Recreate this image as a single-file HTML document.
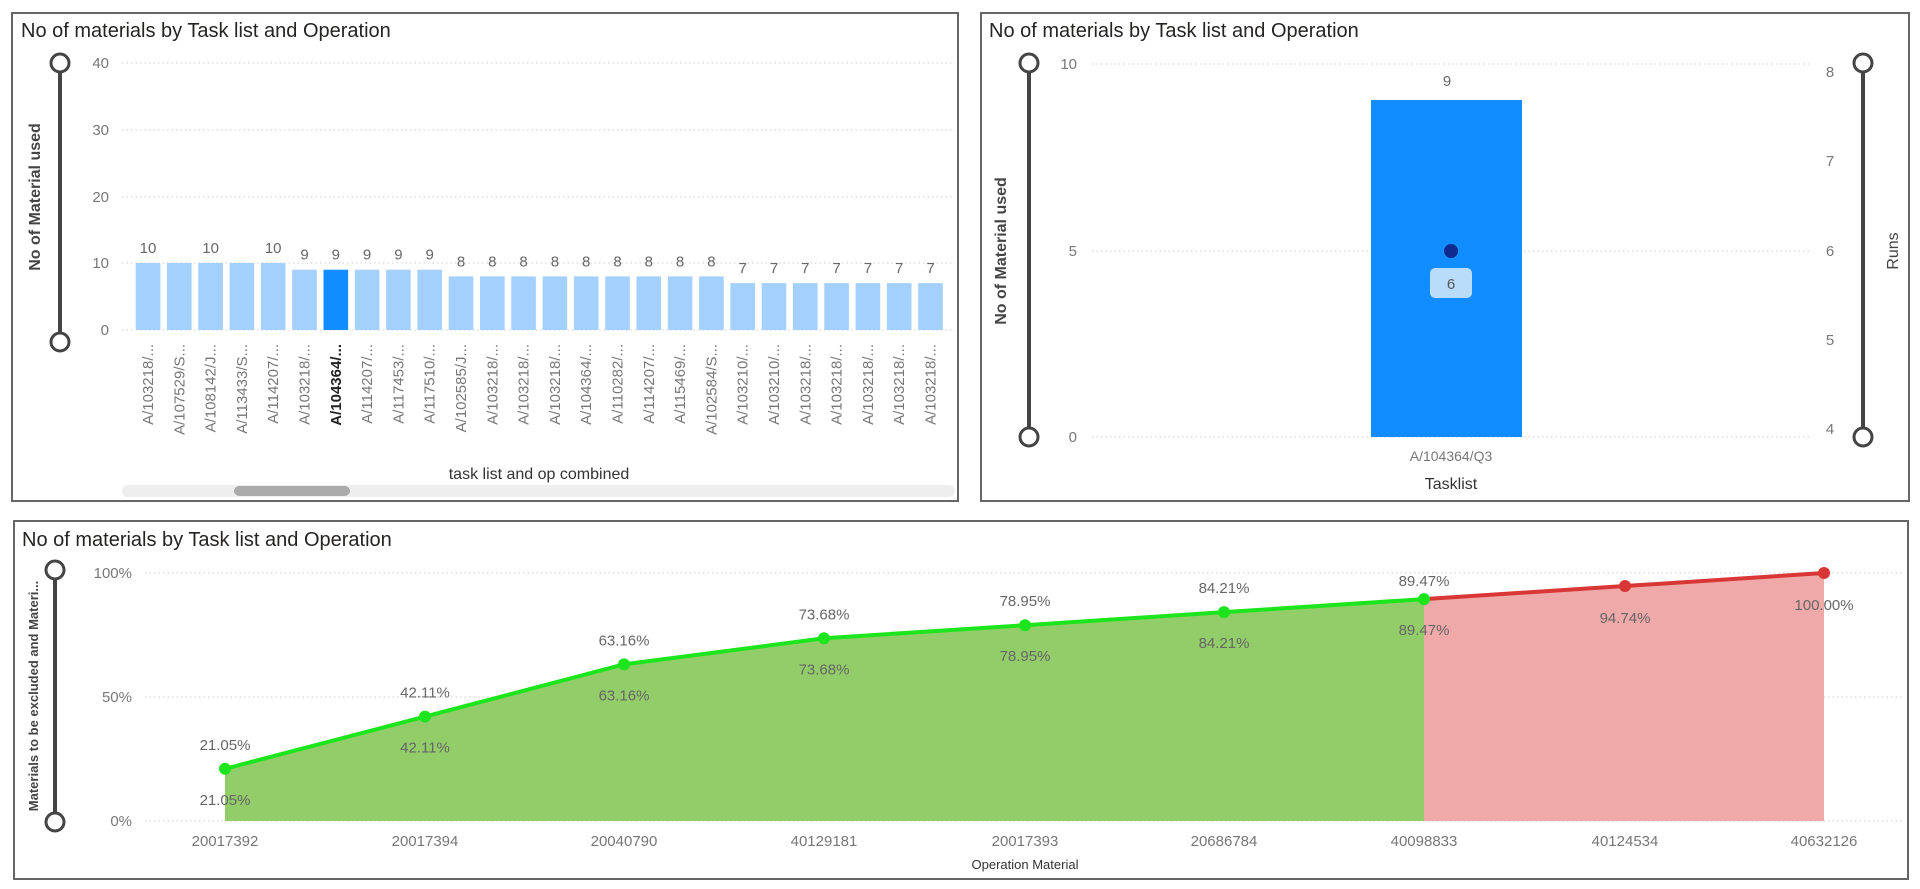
<!DOCTYPE html>
<html><head><meta charset="utf-8"><style>
html,body{margin:0;padding:0;background:#fff;}
svg{display:block;font-family:"Liberation Sans",sans-serif;}
</style></head><body>
<svg width="1920" height="889" viewBox="0 0 1920 889" xmlns="http://www.w3.org/2000/svg">
<rect x="12" y="13" width="946" height="488" fill="#fff" stroke="#666" stroke-width="2"/>
<rect x="981" y="13" width="928" height="488" fill="#fff" stroke="#666" stroke-width="2"/>
<rect x="14" y="521" width="1894" height="358" fill="#fff" stroke="#666" stroke-width="2"/>

<text x="21" y="37" font-size="20" fill="#252423">No of materials by Task list and Operation</text>
<line x1="60" y1="63" x2="60" y2="342" stroke="#444" stroke-width="4"/>
<circle cx="60" cy="63" r="9" fill="#fff" stroke="#444" stroke-width="3"/>
<circle cx="60" cy="342" r="9" fill="#fff" stroke="#444" stroke-width="3"/>
<text transform="translate(40,197) rotate(-90)" text-anchor="middle" font-size="16" font-weight="bold" fill="#444">No of Material used</text>
<g font-size="15" fill="#777" text-anchor="end">
<text x="109" y="68">40</text><text x="109" y="135">30</text><text x="109" y="202">20</text><text x="109" y="268">10</text><text x="109" y="335">0</text>
</g>
<g stroke="#ddd" stroke-width="1.5" stroke-dasharray="1.5,3">
<line x1="122" y1="63" x2="955" y2="63"/><line x1="122" y1="130" x2="955" y2="130"/><line x1="122" y1="197" x2="955" y2="197"/><line x1="122" y1="263" x2="955" y2="263"/><line x1="122" y1="330" x2="955" y2="330"/>
</g>
<g id="bars"></g>
<text x="539" y="479" text-anchor="middle" font-size="16" fill="#333">task list and op combined</text>
<rect x="122" y="485" width="833" height="12" rx="6" fill="#eee"/>
<rect x="234" y="486" width="116" height="10" rx="5" fill="#aaa"/>

<text x="989" y="37" font-size="20" fill="#252423">No of materials by Task list and Operation</text>
<line x1="1029" y1="63" x2="1029" y2="437" stroke="#444" stroke-width="4"/>
<circle cx="1029" cy="63" r="9" fill="#fff" stroke="#444" stroke-width="3"/>
<circle cx="1029" cy="437" r="9" fill="#fff" stroke="#444" stroke-width="3"/>
<text transform="translate(1006,251) rotate(-90)" text-anchor="middle" font-size="16" font-weight="bold" fill="#444">No of Material used</text>
<g font-size="15" fill="#777" text-anchor="end">
<text x="1077" y="69">10</text><text x="1077" y="256">5</text><text x="1077" y="442">0</text>
</g>
<g stroke="#ddd" stroke-width="1.5" stroke-dasharray="1.5,3">
<line x1="1092" y1="64" x2="1811" y2="64"/><line x1="1092" y1="251" x2="1811" y2="251"/><line x1="1092" y1="437" x2="1811" y2="437"/>
</g>
<g font-size="15" fill="#777" text-anchor="middle">
<text x="1830" y="77">8</text><text x="1830" y="166">7</text><text x="1830" y="256">6</text><text x="1830" y="345">5</text><text x="1830" y="434">4</text>
</g>
<line x1="1863" y1="63" x2="1863" y2="437" stroke="#444" stroke-width="4"/>
<circle cx="1863" cy="63" r="9" fill="#fff" stroke="#444" stroke-width="3"/>
<circle cx="1863" cy="437" r="9" fill="#fff" stroke="#444" stroke-width="3"/>
<text transform="translate(1898,251) rotate(-90)" text-anchor="middle" font-size="16" fill="#444">Runs</text>
<rect x="1371" y="100" width="151" height="337" fill="#118dff"/>
<text x="1447" y="86" text-anchor="middle" font-size="15" fill="#666">9</text>
<circle cx="1451" cy="251" r="7" fill="#0f2a8f"/>
<rect x="1430" y="268" width="42" height="30" rx="5" fill="#b9dcfb"/>
<text x="1451" y="289" text-anchor="middle" font-size="15" fill="#555">6</text>
<text x="1451" y="461" text-anchor="middle" font-size="14" fill="#777">A/104364/Q3</text>
<text x="1451" y="489" text-anchor="middle" font-size="16" fill="#333">Tasklist</text>

<text x="22" y="546" font-size="20" fill="#252423">No of materials by Task list and Operation</text>
<line x1="55" y1="570" x2="55" y2="822" stroke="#444" stroke-width="4"/>
<circle cx="55" cy="570" r="9" fill="#fff" stroke="#444" stroke-width="3"/>
<circle cx="55" cy="822" r="9" fill="#fff" stroke="#444" stroke-width="3"/>
<text transform="translate(38,696) rotate(-90)" text-anchor="middle" font-size="13" font-weight="bold" fill="#444">Materials to be excluded and Materi...</text>
<g font-size="15" fill="#777" text-anchor="end">
<text x="132" y="578">100%</text><text x="132" y="702">50%</text><text x="132" y="826">0%</text>
</g>
<g stroke="#ddd" stroke-width="1.5" stroke-dasharray="1.5,3">
<line x1="145" y1="573" x2="1904" y2="573"/><line x1="145" y1="697" x2="1904" y2="697"/><line x1="145" y1="821" x2="1904" y2="821"/>
</g>
<g id="area"></g>
<text x="1025" y="869" text-anchor="middle" font-size="13" fill="#333">Operation Material</text>
</svg>
<script>
(function(){
var NS="http://www.w3.org/2000/svg";
function el(t,a,p,txt){var e=document.createElementNS(NS,t);for(var k in a)e.setAttribute(k,a[k]);if(txt!==undefined)e.textContent=txt;p.appendChild(e);return e;}
var g=document.getElementById("bars");
var vals=[10,10,10,10,10,9,9,9,9,9,8,8,8,8,8,8,8,8,8,7,7,7,7,7,7,7];
var labs=["A/103218/...","A/107529/S...","A/108142/J...","A/113433/S...","A/114207/...","A/103218/...","A/104364/...","A/114207/...","A/117453/...","A/117510/...","A/102585/J...","A/103218/...","A/103218/...","A/103218/...","A/104364/...","A/110282/...","A/114207/...","A/115469/...","A/102584/S...","A/103210/...","A/103210/...","A/103218/...","A/103218/...","A/103218/...","A/103218/...","A/103218/..."];
var showLab=[1,0,1,0,1,1,1,1,1,1,1,1,1,1,1,1,1,1,1,1,1,1,1,1,1,1];
for(var i=0;i<26;i++){
 var cx=148+i*31.3, h=vals[i]*6.7, top=330-h;
 el("rect",{x:cx-12.3,y:top,width:24.6,height:h,fill:i==6?"#118dff":"#a3d0fd"},g);
 if(showLab[i]) el("text",{x:cx,y:top-10,"text-anchor":"middle","font-size":15,fill:"#666"},g,vals[i]);
 el("text",{transform:"translate("+(cx+5)+",344) rotate(-90)","text-anchor":"end","font-size":15,fill:i==6?"#222":"#777","font-weight":i==6?"bold":"normal"},g,labs[i]);
}
var a=document.getElementById("area");
var xs=[225,425,624,824,1025,1224,1424,1625,1824];
var vs=[21.05,42.11,63.16,73.68,78.95,84.21,89.47,94.74,100];
var names=["20017392","20017394","20040790","40129181","20017393","20686784","40098833","40124534","40632126"];
function Y(v){return 821-v*2.48;}
var gp="M225,821";for(var i=0;i<7;i++)gp+=" L"+xs[i]+","+Y(vs[i]);gp+=" L1424,821 Z";
el("path",{d:gp,fill:"#92cd6a"},a);
var rp="M1424,821";for(var i=6;i<9;i++)rp+=" L"+xs[i]+","+Y(vs[i]);rp+=" L1824,821 Z";
el("path",{d:rp,fill:"#f0a9a9"},a);
var gl="";for(var i=0;i<7;i++)gl+=(i?" L":"M")+xs[i]+","+Y(vs[i]);
el("path",{d:gl,fill:"none",stroke:"#1de51d","stroke-width":4},a);
var rl="";for(var i=6;i<9;i++)rl+=(i>6?" L":"M")+xs[i]+","+Y(vs[i]);
el("path",{d:rl,fill:"none",stroke:"#d93636","stroke-width":4},a);
for(var i=0;i<9;i++){
 var y=Y(vs[i]), s=vs[i].toFixed(2)+"%";
 el("circle",{cx:xs[i],cy:y,r:6,fill:i<7?"#1de51d":"#d93636"},a);
 if(i<7){
  el("text",{x:xs[i],y:y-(i==6?13:19),"text-anchor":"middle","font-size":15,fill:"#666"},a,s);
  el("text",{x:xs[i],y:y+36,"text-anchor":"middle","font-size":15,fill:"#666"},a,s);
 } else {
  el("text",{x:xs[i],y:y+37,"text-anchor":"middle","font-size":15,fill:"#666"},a,s);
 }
 el("text",{x:xs[i],y:846,"text-anchor":"middle","font-size":15,fill:"#777"},a,names[i]);
}
})();
</script>
</body></html>
